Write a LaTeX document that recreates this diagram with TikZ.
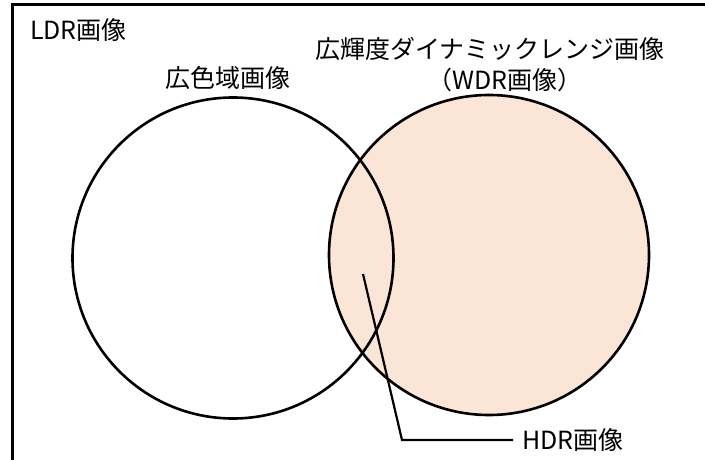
\documentclass[tikz,border=0pt]{standalone}
\usepackage{fontspec}
\setmainfont{Noto Sans CJK JP}
\begin{document}
\begin{tikzpicture}[x=1bp,y=-1bp,
  lbl/.style={inner sep=0pt,font=\fontsize{25bp}{30bp}\selectfont},
  ring/.style={circle,draw=black,line width=2.6bp,inner sep=0pt},
  frameline/.style={draw=black,line width=3bp},
  leader/.style={draw=black,line width=2.2bp}]
\definecolor{peach}{HTML}{FBE5D6}
\useasboundingbox (0,0) rectangle (705,460);
% frame
\draw[frameline] (12,462) -- (12,5) -- (707,5);
% circles
\node[ring,fill=peach,minimum size=320bp] (wdr) at (489,255) {};
\node[ring,minimum size=321bp] (wcg) at (233,258) {};
% labels
\node[lbl,anchor=west] (ldr) at (30,30) {LDR画像};
\node[lbl] (wcgl) at (228,78) {広色域画像};
\node[lbl] (wdrl1) at (490,49) {広輝度ダイナミックレンジ画像};
\node[lbl] (wdrl2) at (505,80) {（WDR画像）};
\node[lbl,anchor=west,inner xsep=9bp] (hdr) at (513,440) {HDR画像};
% leader
\coordinate (hdrpt) at (363,274);
\coordinate (bend) at (402,440);
\draw[leader] (hdrpt) -- (bend) -- (hdr.west);
\end{tikzpicture}
\end{document}
